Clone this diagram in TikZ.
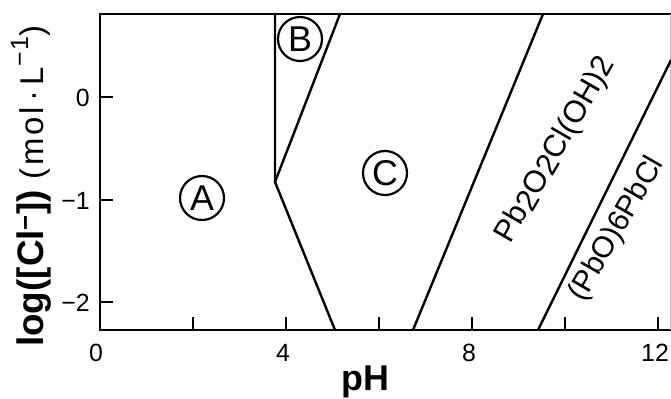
\documentclass[tikz,border=0pt]{standalone}
\usepackage{fontspec}
\setmainfont{Liberation Sans}
\newfontfamily\spacedsans[LetterSpace=9]{Liberation Sans}
\begin{document}
\begin{tikzpicture}[x=1bp,y=1bp,
  frame/.style={line width=2.4bp, line cap=rect},
  bound/.style={line width=2.4bp},
  tickmark/.style={line width=2.2bp},
  ticklab/.style={font=\fontsize{25}{28}\selectfont, inner sep=0pt},
  region/.style={circle, draw, line width=2.2bp, minimum size=44bp, inner sep=0pt, font=\fontsize{36}{38}\selectfont},
  species/.style={font=\fontsize{31}{34}\selectfont, inner sep=0pt, rotate=60, anchor=base}]
\useasboundingbox (0,0) rectangle (671,-398);
\fill[white] (0,0) rectangle (671,-398);
% frame
\coordinate (TL) at (100,-14);
\coordinate (BL) at (100,-330);
\coordinate (BR) at (671,-330);
\coordinate (TR) at (671,-14);
\draw[frame] (TR) -- (TL) -- (BL) -- (BR);
\draw[gray!50, line width=0.8bp] (670,-14) -- (670,-330);
% x ticks
\foreach \px in {193, 286, 379, 472, 565, 658} {
  \draw[tickmark] (\px,-330) -- (\px,-317);
}
\node[ticklab, anchor=north] (x0) at (96,-344) {0};
\node[ticklab, anchor=north] (x4) at (283,-344) {4};
\node[ticklab, anchor=north] (x8) at (469,-344) {8};
\node[ticklab, anchor=north] (x12) at (655,-344) {12};
% y ticks
\foreach \py in {-97,-200,-302} {
  \draw[tickmark] (100,\py) -- (113,\py);
}
\node[ticklab, anchor=east] (y0) at (90,-98) {0};
\node[ticklab, anchor=east] (y1) at (90,-201) {−1};
\node[ticklab, anchor=east] (y2) at (90,-303) {−2};
% axis titles
\node[inner sep=0pt, anchor=base] (xt) at (365,-390) {\fontsize{36}{40}\selectfont\bfseries pH};
\node[inner sep=0pt, anchor=base, rotate=90] (yt) at (43,-186) {\fontsize{37}{40}\selectfont\bfseries log([Cl\textsuperscript{−}])\ \fontsize{33}{36}\selectfont\mdseries\spacedsans(mol\,·\,L\raisebox{0.45em}{\fontsize{25}{28}\selectfont −1})};
% boundaries
\coordinate (J) at (275,-182);
\coordinate (Jtop) at (275,-14);
\coordinate (Jbot) at (335,-330);
\coordinate (Btop) at (340,-14);
\coordinate (P1b) at (413,-330);
\coordinate (P1t) at (543,-14);
\coordinate (P2b) at (538,-330);
\coordinate (P2t) at (671,-60);
\draw[bound] (Jtop) -- (J) -- (Jbot);
\draw[bound] (J) -- (Btop);
\draw[bound] (P1b) -- (P1t);
\draw[bound] (P2b) -- (P2t);
% regions
\node[region] (A) at (202,-198) {A};
\node[region] (B) at (300,-39) {B};
\node[region] (C) at (385,-173) {C};
\node[species] (S1) at (563,-154) {Pb\raisebox{-0.2ex}{2}O\raisebox{-0.2ex}{2}Cl(OH)2};
\node[species, font=\fontsize{30}{33}\selectfont] (S2) at (624,-233) {(PbO)6PbCl};
\end{tikzpicture}
\end{document}
